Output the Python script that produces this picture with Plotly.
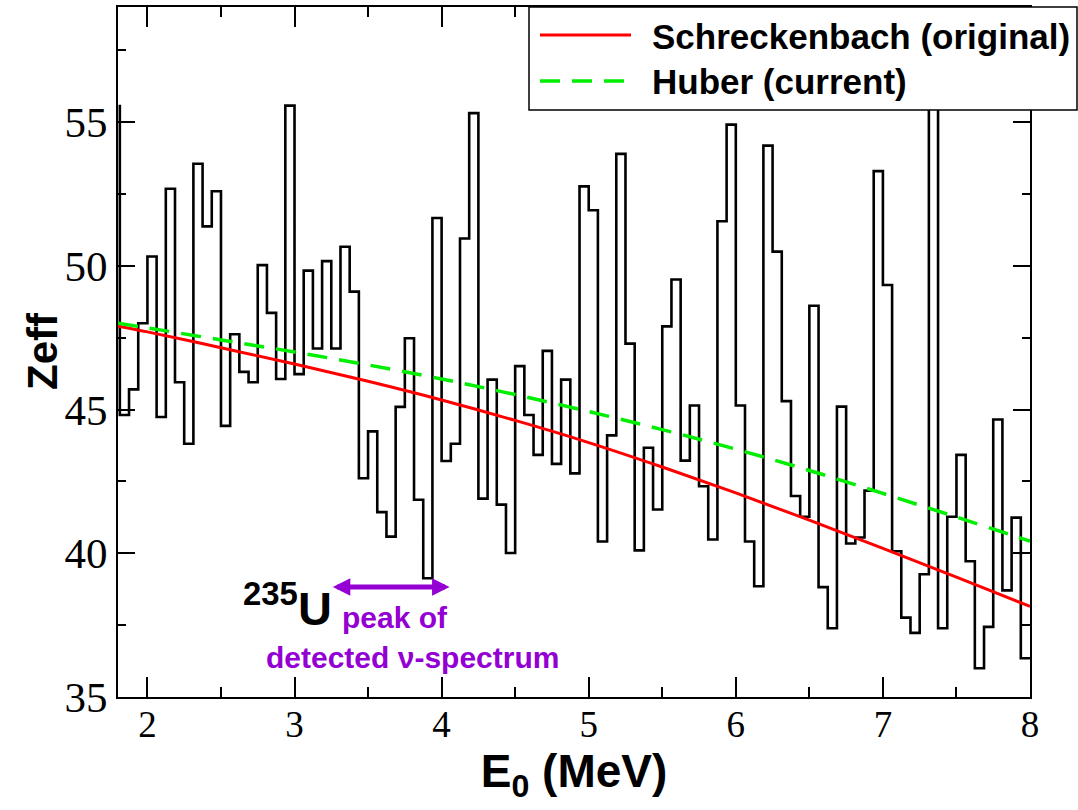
import numpy as np
import plotly.graph_objects as go

# ---------------- data ----------------
bin_start = 1.8125
bin_width = 0.0625
lead_in_value = 55.6
zeff_values = [
    44.81, 45.70, 48.00, 50.32, 44.74, 52.68, 45.95, 43.81, 53.55, 51.37, 52.59, 44.43,
    47.62, 46.31, 45.95, 50.02, 48.36, 46.06, 55.57, 46.23, 49.83, 47.12, 50.16, 47.12,
    50.66, 49.10, 42.61, 44.24, 41.43, 40.58, 45.09, 47.48, 41.86, 39.13, 51.66, 43.21,
    43.81, 50.95, 55.31, 41.90, 46.04, 41.69, 40.01, 46.51, 44.81, 43.42, 47.04, 43.11,
    46.04, 42.78, 52.76, 51.93, 40.41, 44.10, 53.89, 47.29, 40.10, 43.67, 41.52, 47.89,
    49.52, 43.22, 45.14, 42.33, 40.48, 51.55, 54.91, 45.14, 40.41, 38.85, 54.18, 50.49,
    45.29, 41.99, 41.27, 48.61, 38.82, 37.39, 45.10, 40.34, 40.55, 42.18, 53.29, 49.33,
    40.07, 37.76, 37.23, 39.27, 57.00, 37.39, 41.27, 43.42, 39.72, 36.00, 37.44, 44.65,
    38.71, 41.24, 36.35,
]

curve_x = [1.8, 2.0, 2.5, 3.0, 3.5, 4.0, 4.5, 5.0, 5.5, 6.0, 6.5, 7.0, 7.5, 8.0]
schreckenbach_y = [47.9, 47.7, 47.15, 46.58, 45.98, 45.33, 44.62, 43.85, 43.0, 42.1, 41.15, 40.17, 39.17, 38.15]
huber_y = [48.0, 47.84, 47.42, 47.0, 46.55, 46.06, 45.52, 44.93, 44.3, 43.62, 42.88, 42.08, 41.26, 40.42]

x_ticks = [2, 3, 4, 5, 6, 7, 8]
y_ticks = [35, 40, 45, 50, 55]

legend_names = ["Schreckenbach (original)", "Huber (current)"]

# ---------------- build ----------------
edges = bin_start + bin_width * np.arange(len(zeff_values) + 1)
step_x = [edges[0]] + list(edges)
step_y = [lead_in_value] + zeff_values + [zeff_values[-1]]

PURPLE = "#9400D3"
SANS = "Liberation Sans, Arial, sans-serif"
SERIF = "Liberation Serif, Times New Roman, serif"

fig = go.Figure()
fig.add_trace(go.Scatter(x=step_x, y=step_y, mode="lines", line=dict(color="black", width=2.6, shape="hv"),
                         name="Zeff", showlegend=False))
fig.add_trace(go.Scatter(x=curve_x, y=schreckenbach_y, mode="lines",
                         line=dict(color="#ff0000", width=3, shape="spline"),
                         name=legend_names[0], showlegend=False))
fig.add_trace(go.Scatter(x=curve_x, y=huber_y, mode="lines",
                         line=dict(color="#00ee00", width=3.5, dash="20px,12px", shape="spline"),
                         name=legend_names[1], showlegend=False))

# plot area in pixels: left 118, right 1030, top 7, bottom 697
L, R, T, B = 118, 1030, 7, 697
W, H = R - L, B - T
def px(xp):
    return (xp - L) / W
def py(yp):
    return (B - yp) / H

# manual legend (box, samples, labels)
fig.add_shape(type="rect", xref="paper", yref="paper", x0=px(529), x1=px(1077), y0=py(110), y1=py(7),
              line=dict(color="black", width=1.5), fillcolor="white", layer="above")
fig.add_shape(type="line", xref="paper", yref="paper", x0=px(540), x1=px(631), y0=py(35), y1=py(35),
              line=dict(color="#ff0000", width=3), layer="above")
fig.add_shape(type="line", xref="paper", yref="paper", x0=px(540), x1=px(627), y0=py(81), y1=py(81),
              line=dict(color="#00ee00", width=3.5, dash="20px,12px"), layer="above")
for name, yy in zip(legend_names, [36, 81]):
    fig.add_annotation(xref="paper", yref="paper", x=px(650), y=py(yy), xanchor="left", yanchor="middle",
                       text="<b>%s</b>" % name, showarrow=False,
                       font=dict(family=SANS, size=35, color="black"))

# y-axis title
fig.add_annotation(xref="paper", yref="paper", x=px(42), y=py(351), xanchor="center", yanchor="middle",
                   text="<b>Zeff</b>", textangle=-90, showarrow=False,
                   font=dict(family=SANS, size=42, color="black"))

# 235U annotation and arrow
fig.add_annotation(x=3.27, y=38.19, xref="x", yref="y", xanchor="right", yanchor="middle",
                   text="<b><sup>235</sup>U</b>", showarrow=False,
                   font=dict(family=SANS, size=47, color="black"))
fig.add_annotation(x=3.68, y=37.75, xref="x", yref="y", xanchor="center", yanchor="middle",
                   text="<b>peak of</b>", showarrow=False,
                   font=dict(family=SANS, size=30, color=PURPLE))
fig.add_annotation(x=3.80, y=36.38, xref="x", yref="y", xanchor="center", yanchor="middle",
                   text="<b>detected ν-spectrum</b>", showarrow=False,
                   font=dict(family=SANS, size=30, color=PURPLE))
fig.add_annotation(x=4.054, y=38.83, ax=3.25, ay=38.83, xref="x", yref="y", axref="x", ayref="y",
                   text="", showarrow=True, arrowside="end+start",
                   arrowhead=2, startarrowhead=2, arrowsize=0.7, startarrowsize=0.7,
                   arrowwidth=5, arrowcolor=PURPLE, standoff=0, startstandoff=0)

fig.update_layout(
    width=1078, height=810,
    margin=dict(l=L, r=1078 - R, t=T, b=810 - B, autoexpand=False),
    paper_bgcolor="white", plot_bgcolor="white",
    showlegend=False,
)
fig.update_xaxes(
    range=[1.8, 8.0], tickvals=x_ticks, ticktext=[str(v) for v in x_ticks],
    ticks="inside", ticklen=20, tickwidth=1.5, tickcolor="black",
    minor=dict(dtick=0.5, tick0=2, ticks="inside", ticklen=10, tickwidth=1.5, tickcolor="black"),
    showline=True, linewidth=2, linecolor="black", mirror="allticks",
    showgrid=False, zeroline=False,
    tickfont=dict(family=SERIF, size=37, color="black"), ticklabelstandoff=-6,
    title=dict(text="<b>E<sub>0</sub> (MeV)</b>", font=dict(family=SANS, size=46, color="black"), standoff=6),
)
fig.update_yaxes(
    range=[35, 59], tickvals=y_ticks, ticktext=[str(v) for v in y_ticks],
    ticks="inside", ticklen=17, tickwidth=1.5, tickcolor="black",
    minor=dict(dtick=2.5, tick0=35, ticks="inside", ticklen=8, tickwidth=1.5, tickcolor="black"),
    showline=True, linewidth=2, linecolor="black", mirror="allticks",
    showgrid=False, zeroline=False,
    tickfont=dict(family=SERIF, size=43, color="black"), ticklabelstandoff=0,
)

fig.write_html("out.html")
